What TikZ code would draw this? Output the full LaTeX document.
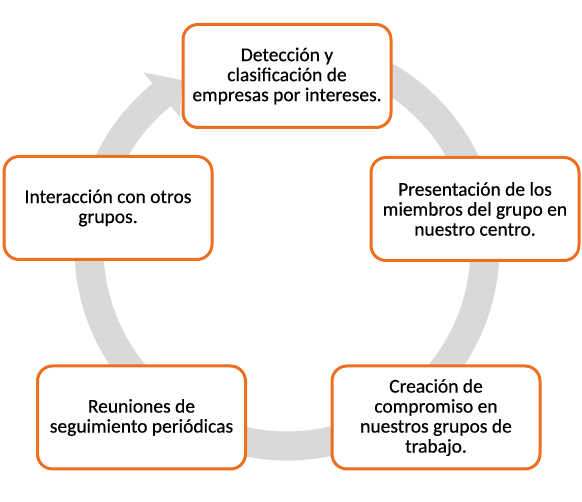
\documentclass[tikz,border=0pt]{standalone}
\usepackage{fontspec}
\setmainfont{Carlito}[FakeBold=0.4]
\definecolor{boxorange}{RGB}{236,112,32}
\definecolor{ringgray}{RGB}{217,217,217}
\tikzset{box/.style={draw=boxorange,fill=white,line width=3pt,rounded corners=15pt,minimum width=208pt,minimum height=103pt,align=center,font=\fontsize{19.5}{20}\selectfont}}

\begin{document}
\begin{tikzpicture}[x=1pt,y=-1pt]
  \useasboundingbox (0,0) rectangle (582,502);
  \begin{scope}[shift={(287,248)}]
    \fill[ringgray] (-75:212.5) arc[start angle=-75,end angle=230.7,radius=212.5] -- (230.7:227) -- (238:198) -- (230.7:169) -- (230.7:183.5) arc[start angle=230.7,end angle=-75,radius=183.5] -- cycle;
  \end{scope}
  \node (top) at (287,76) [box] {Detección y\\clasificación de\\empresas por intereses.};
  \node (right) at (475,209) [box] {Presentación de los\\miembros del grupo en\\nuestro centro.};
  \node (botr) at (436,417.5) [box] {Creación de\\compromiso en\\nuestros grupos de\\trabajo.};
  \node (botl) at (141.5,417.5) [box] {Reuniones de\\seguimiento periódicas};
  \node (left) at (108,208) [box] {Interacción con otros\\grupos.};
\end{tikzpicture}
\end{document}
